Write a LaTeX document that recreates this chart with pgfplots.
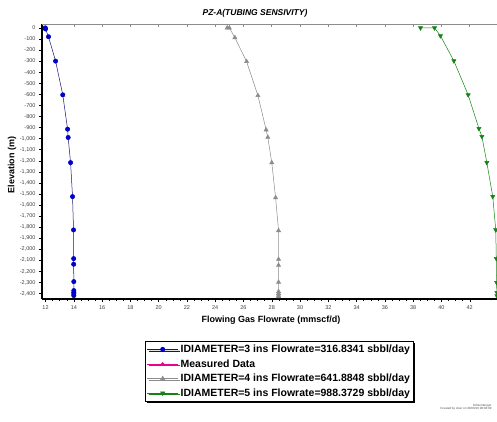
\documentclass[border=0pt]{standalone}
\usepackage{pgfplots}
\pgfplotsset{compat=1.18}
\usepackage{fontspec}
\setmainfont{Liberation Sans}
\usetikzlibrary{shadows}
\definecolor{dblue}{RGB}{0,0,200}
\definecolor{navy}{RGB}{20,20,120}
\definecolor{dgreen}{RGB}{20,130,20}
\definecolor{tgray}{RGB}{140,140,140}
\begin{document}
\begin{tikzpicture}
\begin{axis}[
    scale only axis,
    width=455pt, height=275pt,
    xmin=11.75, xmax=43.93,
    ymin=-2449, ymax=35,
    axis x line*=bottom, axis y line*=left,
    axis line style={black, line width=1.2pt, -},
    xtick={12,14,...,42},
    ytick={0,-100,...,-2400},
    minor x tick num=3,
    tick align=outside,
    tick style={black, line width=0.4pt},
    major tick length=3pt, minor tick length=1.5pt,
    tick label style={font=\fontsize{5.5}{6}\selectfont, text=black!75},
    /pgf/number format/assume math mode=true,
    /pgf/number format/1000 sep={,},
    scaled ticks=false,
    clip=false,
    legend style={
        at={(0.2264,-0.1527)}, anchor=north west,
        fill=white, line width=0.6pt,
        drop shadow={shadow xshift=1.5pt, shadow yshift=-1.5pt, fill=black, opacity=1},
        font=\fontsize{10.5}{11}\selectfont\bfseries,
        row sep=1.5pt, inner sep=1.5pt,
    },
    legend cell align=left,
    legend image code/.code={
        \draw[mark repeat=2,mark phase=2,#1] plot coordinates {(0cm,0cm)(0.55cm,0cm)(1.1cm,0cm)};
    },
]
% top border (gray, with ticks)
\draw[tgray, line width=0.8pt] (rel axis cs:0,1) -- (rel axis cs:1,1);
\pgfplotsinvokeforeach{14,16,...,42}{
    \draw[tgray, line width=0.6pt] (axis cs:#1,35) -- ([yshift=-2.5pt]axis cs:#1,35);
}

% IDIAMETER=3
\addplot[navy, line width=0.5pt, mark=*, mark size=2.2pt,
    mark options={fill=dblue, draw=dblue}] coordinates {
    (11.98,0) (12.0,-10) (12.21,-80) (12.71,-300) (13.22,-605)
    (13.56,-915) (13.60,-990) (13.77,-1217) (13.91,-1524)
    (13.98,-1825) (13.99,-2084) (13.99,-2135) (14.0,-2292)
    (14.0,-2373) (14.0,-2390) (14.0,-2403) (14.0,-2418)
};
\addlegendentry{IDIAMETER=3 ins Flowrate=316.8341 sbbl/day}

\addlegendimage{magenta, line width=0.5pt, mark=*, mark size=1.5pt}
\addlegendentry{Measured Data}

% IDIAMETER=4
\addplot[tgray, line width=0.5pt, mark=triangle*, mark size=2.4pt,
    mark options={fill=tgray, draw=tgray}] coordinates {
    (24.85,0) (25.0,0) (25.39,-88) (26.22,-304) (27.02,-611)
    (27.60,-921) (27.72,-988) (28.0,-1217) (28.27,-1533)
    (28.48,-1831) (28.48,-2090) (28.48,-2144) (28.48,-2297)
    (28.48,-2382) (28.48,-2400) (28.48,-2415) (28.48,-2427)
};
\addlegendentry{IDIAMETER=4 ins Flowrate=641.8848 sbbl/day}

% IDIAMETER=5
\addplot[dgreen, line width=0.5pt, mark=triangle*, mark size=2.4pt,
    mark options={fill=dgreen, draw=dgreen, rotate=180}] coordinates {
    (38.52,0) (39.51,0) (39.93,-72) (40.88,-298) (41.89,-605)
    (42.65,-909) (42.86,-981) (43.21,-1217) (43.63,-1524)
    (43.84,-1825) (43.88,-2084) (43.9,-2300) (43.92,-2390)
    (43.92,-2420)
};
\addlegendentry{IDIAMETER=5 ins Flowrate=988.3729 sbbl/day}
\end{axis}

% title and axis labels
\node[font=\fontsize{8.5}{10}\selectfont\bfseries\itshape] at (213pt,286pt) {PZ-A(TUBING SENSIVITY)};
\node[font=\fontsize{9}{10}\selectfont\bfseries] at (229pt,-21pt) {Flowing Gas Flowrate (mmscf/d)};
\node[font=\fontsize{9}{10}\selectfont\bfseries, rotate=90] at (-30pt,134pt) {Elevation (m)};

% footer
\node[font=\fontsize{3}{3.5}\selectfont, anchor=east, text=black!70, align=right] at (453pt,-108pt) {Schlumberger\\Created by User on 30/09/16 08:38:09};

\pgfresetboundingbox
\path (-42pt,-122pt) rectangle (455pt,299pt);
\end{tikzpicture}
\end{document}
